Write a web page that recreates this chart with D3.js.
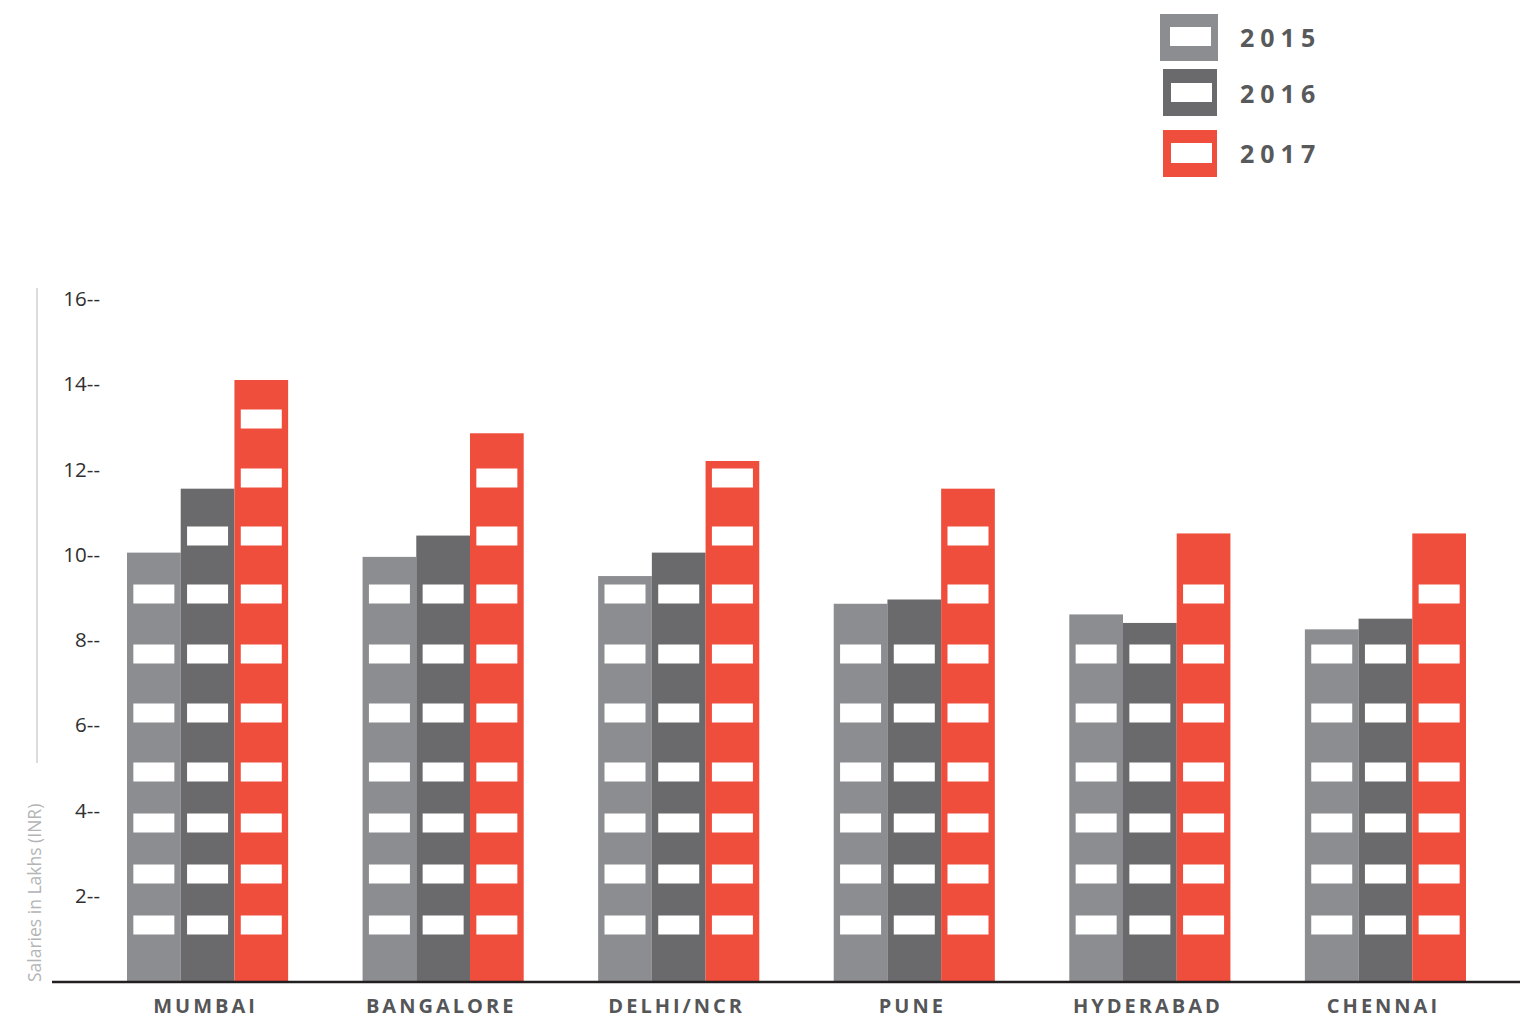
<!DOCTYPE html>
<html>
<head>
<meta charset="utf-8">
<script src="https://cdn.jsdelivr.net/npm/d3@7"></script>
<style>
  html, body { margin: 0; padding: 0; background: #fff; }
  svg { display: block; }
</style>
</head>
<body>
<svg id="chart" width="1520" height="1018"></svg>
<script>
// Average salaries (lakhs INR) by city and year
const cities = ["MUMBAI", "BANGALORE", "DELHI/NCR", "PUNE", "HYDERABAD", "CHENNAI"];
const years = ["2015", "2016", "2017"];
const salary2015 = [10.05, 9.95, 9.5, 8.85, 8.6, 8.25];
const salary2016 = [11.55, 10.45, 10.05, 8.95, 8.4, 8.5];
const salary2017 = [14.1, 12.85, 12.2, 11.55, 10.5, 10.5];
const yTicks = [2, 4, 6, 8, 10, 12, 14, 16];

const seriesValues = [salary2015, salary2016, salary2017];
const colors = ["#8c8d91", "#6a6a6c", "#ef4e3c"];

const svg = d3.select("#chart");

const baseY = 981;
const x0 = d3.scaleBand().domain(cities).range([127, 1466]).paddingInner(0.316).paddingOuter(0);
const x1 = d3.scaleBand().domain(years).range([0, x0.bandwidth()]).padding(0);
const y = d3.scaleLinear().domain([0, 16]).range([baseY, 299]);

// window rows, measured upward from the ground line
const windowRows = [56, 107, 158, 209, 268, 327, 387, 445, 503, 562];
const winW = 41, winH = 19;

// left guide line
svg.append("line")
  .attr("x1", 37).attr("x2", 37).attr("y1", 288).attr("y2", 763)
  .attr("stroke", "#dcdcdc").attr("stroke-width", 2);

// y axis title
svg.append("text")
  .attr("transform", "translate(41,982) rotate(-90)")
  .attr("font-family", "'Open Sans', 'Noto Sans', sans-serif")
  .attr("font-size", 17.5)
  .attr("fill", "#b4b4b6")
  .text("Salaries in Lakhs (INR)");

// y axis labels
const yAxis = svg.append("g")
  .attr("transform", "translate(100,0)")
  .call(d3.axisLeft(y).tickValues(yTicks).tickSize(0).tickPadding(0).tickFormat(d => d + "--"));
yAxis.select(".domain").remove();
yAxis.selectAll("text")
  .attr("font-family", "'Open Sans', 'Noto Sans', sans-serif")
  .attr("font-size", 20.5)
  .attr("fill", "#2f2f2f");

// bars
const rows = cities.map((c, i) => ({ city: c, vals: years.map((yr, k) => ({ year: yr, k, v: seriesValues[k][i] })) }));

const groups = svg.selectAll("g.city")
  .data(rows).join("g")
  .attr("class", "city")
  .attr("transform", d => `translate(${x0(d.city)},0)`);

const bars = groups.selectAll("g.bar")
  .data(d => d.vals).join("g")
  .attr("class", "bar")
  .attr("transform", d => `translate(${x1(d.year)},0)`);

bars.append("rect")
  .attr("x", 0)
  .attr("width", x1.bandwidth())
  .attr("y", d => y(d.v))
  .attr("height", d => baseY - y(d.v))
  .attr("fill", d => colors[d.k]);

bars.selectAll("rect.win")
  .data(d => windowRows.filter(off => baseY - off - winH / 2 > y(d.v) + 2))
  .join("rect")
  .attr("class", "win")
  .attr("x", (x1.bandwidth() - winW) / 2)
  .attr("width", winW)
  .attr("y", off => baseY - off - winH / 2)
  .attr("height", winH)
  .attr("fill", "#ffffff");

// ground line
svg.append("line")
  .attr("x1", 52).attr("x2", 1520).attr("y1", baseY + 1).attr("y2", baseY + 1)
  .attr("stroke", "#231f20").attr("stroke-width", 2.5);

// city labels
const xAxis = svg.append("g")
  .attr("transform", `translate(0,${baseY + 32})`)
  .call(d3.axisBottom(x0).tickSize(0).tickPadding(0));
xAxis.select(".domain").remove();
xAxis.selectAll("text")
  .attr("y", 0)
  .attr("dy", 0)
  .attr("font-family", "'Open Sans', 'Noto Sans', sans-serif")
  .attr("font-weight", "bold")
  .attr("font-size", 20)
  .attr("letter-spacing", 3)
  .attr("fill", "#555658")
  .attr("x", -2);

// legend
const legend = svg.append("g");
const legendRows = [
  { outer: [1160, 14, 58, 47], inner: [1170, 27, 41, 19], ty: 47 },
  { outer: [1163, 69, 54, 47], inner: [1171, 83, 41, 19], ty: 103 },
  { outer: [1163, 130, 54, 47], inner: [1171, 143, 41, 20], ty: 163 }
];
years.forEach((yr, k) => {
  const r = legendRows[k];
  legend.append("rect").attr("x", r.outer[0]).attr("y", r.outer[1]).attr("width", r.outer[2]).attr("height", r.outer[3]).attr("fill", colors[k]);
  legend.append("rect").attr("x", r.inner[0]).attr("y", r.inner[1]).attr("width", r.inner[2]).attr("height", r.inner[3]).attr("fill", "#fff");
  legend.append("text")
    .attr("x", 1240).attr("y", r.ty)
    .attr("font-family", "'Open Sans', 'Noto Sans', sans-serif")
    .attr("font-weight", "bold")
    .attr("font-size", 25)
    .attr("letter-spacing", 6)
    .attr("fill", "#58595b")
    .text(yr);
});
</script>
</body>
</html>
